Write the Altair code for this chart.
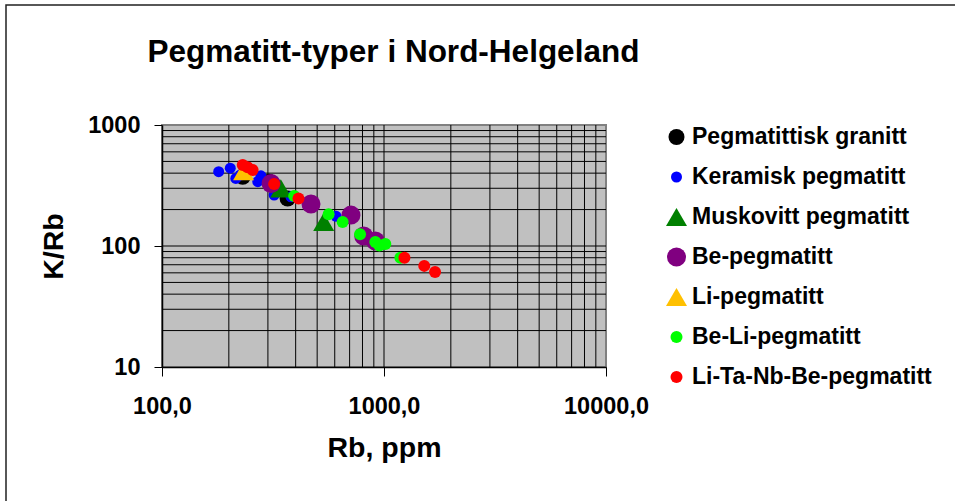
import altair as alt
import pandas as pd

# ---- data ----
chart_title = ["Pegmatitt-typer i Nord-Helgeland"]
series_names = ["Pegmatittisk granitt", "Keramisk pegmatitt", "Muskovitt pegmatitt",
                "Be-pegmatitt", "Li-pegmatitt", "Be-Li-pegmatitt", "Li-Ta-Nb-Be-pegmatitt"]

granitt_rb = [231, 304, 368]
granitt_krb = [373, 340, 247]
keramisk_rb = [180, 203, 215, 225, 279, 270, 320, 381, 609]
keramisk_krb = [411, 440, 362, 386, 380, 340, 264, 255, 176]
muskovitt_rb = [343, 535]
muskovitt_krb = [299, 158]
be_rb = [310, 469, 710, 810, 914]
be_krb = [329, 222, 180, 121, 110]
li_rb = [233]
li_krb = [415]
beli_rb = [394, 563, 651, 780, 914, 953, 1014, 1185]
beli_krb = [259, 183, 158, 125, 108, 101, 104, 80]
litanb_rb = [231, 256, 243, 320, 412, 1236, 1518, 1698]
litanb_krb = [467, 424, 447, 325, 247, 80, 68.5, 61]

x_ticks = [100, 1000, 10000]
y_ticks = [10, 100, 1000]
x_grid = [200, 300, 400, 500, 600, 700, 800, 900, 1000,
          2000, 3000, 4000, 5000, 6000, 7000, 8000, 9000]
y_grid = [20, 30, 40, 50, 60, 70, 80, 90, 100,
          200, 300, 400, 500, 600, 700, 800, 900]

# ---- styles ----
colors = ["#000000", "#0000FF", "#008000", "#800080", "#FFC000", "#00FF00", "#FF0000"]
shapes = ["circle", "circle", "triangle-up", "circle", "triangle-up", "circle", "circle"]
sizes = [256, 121, 441, 361, 441, 144, 144]
FONT = "Liberation Sans"

series_x = [granitt_rb, keramisk_rb, muskovitt_rb, be_rb, li_rb, beli_rb, litanb_rb]
series_y = [granitt_krb, keramisk_krb, muskovitt_krb, be_krb, li_krb, beli_krb, litanb_krb]

rows = []
i = 0
for name, xs, ys in zip(series_names, series_x, series_y):
    for xv, yv in zip(xs, ys):
        rows.append({"type": name, "Rb": xv, "KRb": yv, "idx": i})
        i += 1
df = pd.DataFrame(rows)

x_scale = alt.Scale(type="log", domain=[100, 10000])
y_scale = alt.Scale(type="log", domain=[10, 1000])

x_axis = alt.Axis(
    values=x_ticks, grid=False, title="Rb, ppm",
    labelExpr="replace(format(datum.value, '.1f'), '.', ',')",
    labelPadding=18, labelBaseline="top", tickSize=9,
    labelFlush=False, labelOverlap=False, labelAlign="center",
    titleX=222, titleY=89, titleBaseline="alphabetic", titleAlign="center",
)
y_axis = alt.Axis(
    values=y_ticks, grid=False, title="K/Rb", format="d",
    labelPadding=14, tickSize=8, labelFlush=False, labelOverlap=False,
    titleX=-100, titleY=121, titleAngle=270, titleBaseline="alphabetic", titleAlign="center",
)

vgrid = alt.Chart(pd.DataFrame({"v": x_grid})).mark_rule(color="black", strokeWidth=1).encode(
    x=alt.X("v:Q", scale=x_scale, axis=x_axis)
)
hgrid = alt.Chart(pd.DataFrame({"h": y_grid})).mark_rule(color="black", strokeWidth=1).encode(
    y=alt.Y("h:Q", scale=y_scale, axis=y_axis)
)

legend = alt.Legend(
    orient="none", legendX=503, legendY=-3, title=None,
    labelFont=FONT, labelFontSize=23, labelFontWeight="bold", labelColor="black",
    labelOffset=4, rowPadding=10, clipHeight=30, padding=0, labelLimit=400,
    symbolOpacity=1, symbolStrokeWidth=0,
)

points = alt.Chart(df).mark_point(filled=True, opacity=1, strokeWidth=0).encode(
    x=alt.X("Rb:Q", scale=x_scale, axis=x_axis),
    y=alt.Y("KRb:Q", scale=y_scale, axis=y_axis),
    color=alt.Color("type:N", scale=alt.Scale(domain=series_names, range=colors), legend=legend),
    shape=alt.Shape("type:N", scale=alt.Scale(domain=series_names, range=shapes), legend=legend),
    size=alt.Size("type:N", scale=alt.Scale(type="ordinal", domain=series_names, range=sizes), legend=legend),
    order=alt.Order("idx:Q"),
)

title = alt.Chart(pd.DataFrame({"t": chart_title})).mark_text(
    font=FONT, fontSize=31.5, fontWeight="bold", color="black",
    align="center", baseline="alphabetic",
).encode(text="t:N", x=alt.value(231.5), y=alt.value(-63))

frame = alt.Chart(pd.DataFrame({"f": [0]})).mark_rect(
    fillOpacity=0, stroke="#202020", strokeWidth=1.5
).encode(
    x=alt.value(-156), x2=alt.value(860), y=alt.value(-120), y2=alt.value(420)
)

chart = alt.layer(vgrid, hgrid, points, title, frame).properties(
    width=444, height=242,
    autosize=alt.AutoSizeParams(type="none"),
    padding={"left": 162, "top": 125, "right": 349, "bottom": 134},
    background="white",
).configure_view(
    fill="#C0C0C0", stroke="#808080", strokeWidth=2
).configure_axis(
    domainColor="black", domainWidth=1.5, tickColor="black", tickWidth=1,
    labelFont=FONT, labelFontSize=23.5, labelFontWeight="bold", labelColor="black",
    titleFont=FONT, titleFontSize=28.5, titleFontWeight="bold", titleColor="black",
)

chart.save("out.html", embed_options={"renderer": "svg", "actions": False})
